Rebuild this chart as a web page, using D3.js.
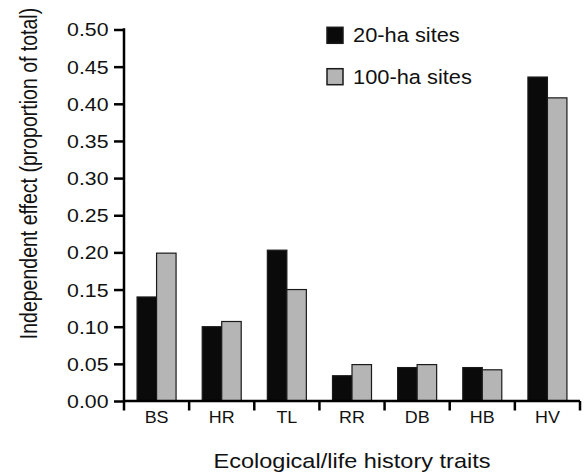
<!DOCTYPE html>
<html>
<head>
<meta charset="utf-8">
<style>
  body { margin: 0; background: #fff; }
  text { font-family: "Liberation Sans", Arial, Helvetica, sans-serif; fill: #111; }
</style>
</head>
<body>
<svg width="584" height="472"></svg>
<script src="https://d3js.org/d3.v7.min.js"></script>
<script>

// data
var traits = ["BS", "HR", "TL", "RR", "DB", "HB", "HV"];
var sites20 = [0.140, 0.100, 0.203, 0.034, 0.045, 0.045, 0.436];
var sites100 = [0.199, 0.107, 0.150, 0.049, 0.049, 0.042, 0.408];
var seriesNames = ["20-ha sites", "100-ha sites"];
var seriesColors = ["#0a0a0a", "#b5b5b5"];
var yTicks = [0, 0.05, 0.10, 0.15, 0.20, 0.25, 0.30, 0.35, 0.40, 0.45, 0.50];

var svg = d3.select("svg"),
    width = +svg.attr("width"),
    height = +svg.attr("height");

// the original picture is a bit wider than tall, so text is stretched sideways
var sx = 1.12;

var margin = {top: 29.5, right: 4, bottom: 71, left: 124};

var x = d3.scaleBand()
    .domain(traits)
    .range([margin.left, width - margin.right]);

var xs = d3.scaleBand()
    .domain([0, 1])
    .range([0, x.bandwidth()])
    .paddingOuter(0.67);

var y = d3.scaleLinear()
    .domain([0, 0.5])
    .range([height - margin.bottom, margin.top]);

var rows = traits.map(function(t, i) {
  return {trait: t, values: [sites20[i], sites100[i]]};
});

// bars
var groups = svg.append("g")
  .selectAll("g")
  .data(rows)
  .enter().append("g")
    .attr("transform", function(d) { return "translate(" + x(d.trait) + ",0)"; });

groups.selectAll("rect")
  .data(function(d) { return d.values.map(function(v, j) { return {v: v, j: j}; }); })
  .enter().append("rect")
    .attr("x", function(d) { return xs(d.j); })
    .attr("width", xs.bandwidth())
    .attr("y", function(d) { return y(d.v); })
    .attr("height", function(d) { return y(0) - y(d.v); })
    .attr("fill", function(d) { return seriesColors[d.j]; })
    .attr("stroke", "#1a1a1a")
    .attr("stroke-width", 1.2);

// y axis
var yAxis = svg.append("g")
    .attr("transform", "translate(" + margin.left + ",0)")
    .call(d3.axisLeft(y)
      .tickValues(yTicks)
      .tickSize(10)
      .tickFormat(d3.format(".2f")));

yAxis.select(".domain").remove();
yAxis.selectAll(".tick line")
    .attr("stroke", "#000")
    .attr("stroke-width", 2.5);
yAxis.selectAll(".tick text")
    .attr("x", -15.5 / sx)
    .attr("dy", "0.34em")
    .attr("transform", "scale(" + sx + ",1)")
    .attr("font-size", 19)
    .attr("font-family", null);

svg.append("line")
    .attr("x1", margin.left).attr("x2", margin.left)
    .attr("y1", y(0.5) - 1.25)
    .attr("y2", y(0) + 9.5)
    .attr("stroke", "#000")
    .attr("stroke-width", 2.5);

// x axis: line, ticks between the groups, labels under each group
svg.append("line")
    .attr("x1", margin.left)
    .attr("x2", width - margin.right)
    .attr("y1", y(0)).attr("y2", y(0))
    .attr("stroke", "#000")
    .attr("stroke-width", 2.5);

var bounds = traits.map(function(t) { return x(t); }).concat([x.range()[1]]);
svg.append("g")
  .selectAll("line")
  .data(bounds.slice(1))
  .enter().append("line")
    .attr("x1", function(d) { return d; })
    .attr("x2", function(d) { return d; })
    .attr("y1", y(0))
    .attr("y2", y(0) + 9.5)
    .attr("stroke", "#000")
    .attr("stroke-width", 2.5);

var xAxis = svg.append("g")
    .attr("transform", "translate(0," + y(0) + ")")
    .call(d3.axisBottom(x).tickSize(0));

xAxis.select(".domain").remove();
xAxis.selectAll(".tick text")
    .attr("y", 22.3)
    .attr("dy", 0)
    .attr("transform", "scale(" + sx + ",1)")
    .attr("font-size", 16)
    .attr("font-family", null);

// axis titles
svg.append("text")
    .attr("transform", "translate(" + ((x.range()[0] + x.range()[1]) / 2) + ",468) scale(" + sx + ",1)")
    .attr("text-anchor", "middle")
    .attr("font-size", 21)
    .text("Ecological/life history traits");

svg.append("text")
    .attr("transform", "translate(36.5,173.5) scale(1.22,1) rotate(-90)")
    .attr("text-anchor", "middle")
    .attr("font-size", 19.5)
    .text("Independent effect (proportion of total)");

// legend
var legend = svg.append("g")
  .selectAll("g")
  .data(seriesNames)
  .enter().append("g")
    .attr("transform", function(d, i) { return "translate(327," + (35.3 + i * 41.4) + ")"; });

legend.append("rect")
    .attr("x", 0)
    .attr("y", -8)
    .attr("width", 16)
    .attr("height", 16)
    .attr("fill", function(d, i) { return seriesColors[i]; })
    .attr("stroke", "#1a1a1a")
    .attr("stroke-width", 1.5);

legend.append("text")
    .attr("transform", "translate(26,0) scale(" + sx + ",1)")
    .attr("dy", "0.36em")
    .attr("font-size", 19.5)
    .text(function(d) { return d; });

</script>
</body>
</html>
